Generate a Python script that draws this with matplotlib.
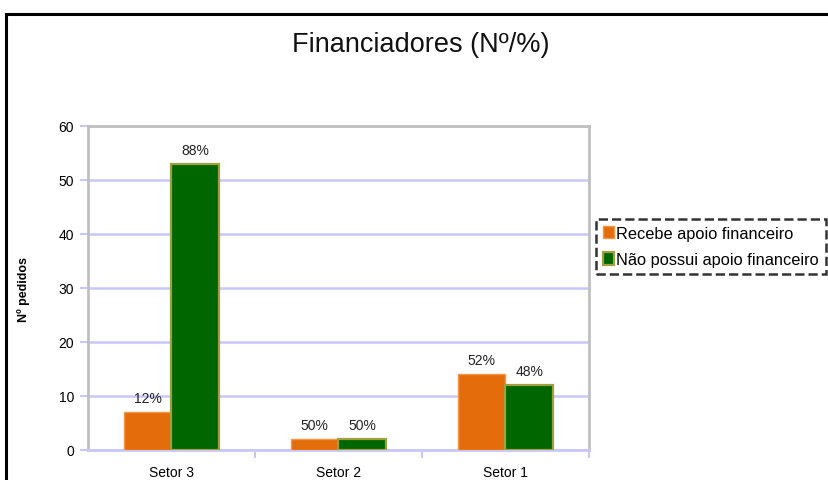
import matplotlib
matplotlib.use("Agg")
import matplotlib.pyplot as plt
from matplotlib.patches import Rectangle
import numpy as np

categories = ["Setor 3", "Setor 2", "Setor 1"]
recebe = [7, 2, 14]
nao_possui = [53, 2, 12]
recebe_pct = ["12%", "50%", "52%"]
nao_pct = ["88%", "50%", "48%"]
series_names = ["Recebe apoio financeiro", "Não possui apoio financeiro"]
yticks = [0, 10, 20, 30, 40, 50, 60]

plt.rcParams['font.family'] = ['Liberation Sans', 'DejaVu Sans']

W, H = 829, 481
fig = plt.figure(figsize=(W / 100, H / 100), dpi=100)

# outer frame (extends beyond right and bottom edges)
fig.patches.append(Rectangle((6 / W, -0.1), 1.2, 1 - 15 / H + 0.1,
                             transform=fig.transFigure, fill=False,
                             edgecolor='black', linewidth=2.2))

ax = fig.add_axes([88 / W, 1 - 451 / H, (589 - 88) / W, (451 - 127) / H])
x = np.arange(len(categories))
bw = 0.285
orange = '#E46C0A'
green = '#006600'
b1 = ax.bar(x - bw / 2, recebe, bw, color=orange, edgecolor='#F79646',
            linewidth=1.0, zorder=3, label=series_names[0])
b2 = ax.bar(x + bw / 2, nao_possui, bw, color=green, edgecolor='#A0A040',
            linewidth=1.6, zorder=3, label=series_names[1])

for rect, lab in zip(b1, recebe_pct):
    ax.text(rect.get_x() + rect.get_width() / 2, rect.get_height() + 1.3, lab,
            ha='center', va='bottom', fontsize=10, color='#222222')
for rect, lab in zip(b2, nao_pct):
    ax.text(rect.get_x() + rect.get_width() / 2, rect.get_height() + 1.3, lab,
            ha='center', va='bottom', fontsize=10, color='#222222')

ax.set_xlim(-0.5, 2.5)
ax.set_ylim(0, 60)
ax.set_yticks(yticks)
ax.set_yticklabels([str(v) for v in yticks], fontsize=10)
ax.set_xticks(x)
ax.set_xticklabels(categories, fontsize=10)
ax.tick_params(axis='x', length=0, pad=11)
ax.tick_params(axis='y', length=6, color='#C8C8F8', width=1.5, pad=4)
# category separator ticks
ax.set_xticks([0.5, 1.5, 2.5], minor=True)
ax.tick_params(axis='x', which='minor', length=6, color='#C8C8F8', width=1.5)

ax.grid(axis='y', color='#C8C8F8', linewidth=1.8, zorder=0)
for s in ['left', 'right', 'top']:
    ax.spines[s].set_color('#C0C0C0')
    ax.spines[s].set_linewidth(2)
ax.spines['bottom'].set_color('#C8C8F8')
ax.spines['bottom'].set_linewidth(2)

fig.text(421 / W, 1 - 45 / H, "Financiadores (Nº/%)", ha='center', va='center',
         fontsize=19.5, color='#111111')

fig.text(24 / W, 1 - 290 / H, "Nº pedidos", rotation=90, ha='center',
         va='center', fontsize=9, fontweight='bold')

leg = fig.legend(handles=[b1, b2], labels=series_names,
                 loc='upper left', bbox_to_anchor=(596 / W, 1 - 220 / H),
                 fontsize=11.8, frameon=True, fancybox=False,
                 handlelength=0.7, handleheight=0.8, handletextpad=0.15,
                 borderpad=0.4, labelspacing=0.7, borderaxespad=0)
fr = leg.get_frame()
fr.set_edgecolor('black')
fr.set_linestyle('--')
fr.set_linewidth(1.8)

fig.savefig("out.png", dpi=100)
